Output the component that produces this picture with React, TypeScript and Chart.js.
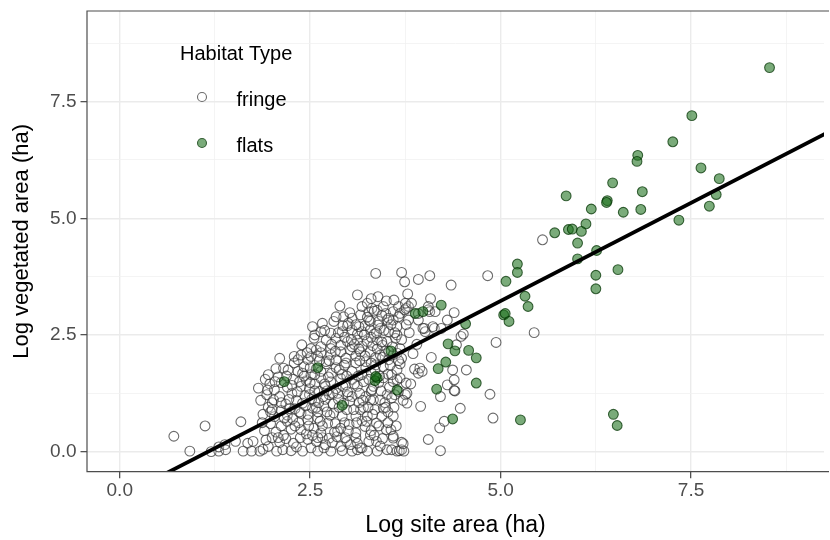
import React, { useEffect, useRef } from 'react';
import { Chart, registerables } from 'chart.js';

Chart.register(...registerables);

// ---- axes ----
const xRange = [-0.43, 9.245];
const yRange = [-0.43, 9.443];
const xTickValues = [0, 1.25, 2.5, 3.75, 5, 6.25, 7.5, 8.75];
const xTickLabels = ['0.0', '', '2.5', '', '5.0', '', '7.5', ''];
const yTickValues = [0, 1.25, 2.5, 3.75, 5, 6.25, 7.5, 8.75];
const yTickLabels = ['0.0', '', '2.5', '', '5.0', '', '7.5', ''];
const xTitle = 'Log site area (ha)';
const yTitle = 'Log vegetated area (ha)';
const legendTitle = 'Habitat Type';
const seriesNames = ['fringe', 'flats'];

// ---- fitted line (two ends) ----
const fitX = [0.5, 9.4];
const fitY = [-0.556, 6.93];

// ---- flats points ----
const flatsPoints: [number, number][] = [
  [8.53, 8.23], [7.51, 7.2], [7.26, 6.64], [6.8, 6.35], [6.79, 6.22], [7.63, 6.08], [7.87, 5.85],
  [6.47, 5.76], [6.86, 5.57], [5.86, 5.48], [6.4, 5.38], [6.39, 5.34], [7.83, 5.51], [7.74, 5.26],
  [6.19, 5.2], [6.61, 5.13], [6.84, 5.19], [7.34, 4.96], [6.12, 4.88], [5.89, 4.76], [5.94, 4.77],
  [6.06, 4.72], [5.71, 4.69], [6.01, 4.47], [6.01, 4.13], [6.26, 4.31], [5.22, 4.02], [5.22, 3.84],
  [5.07, 3.65], [6.25, 3.78], [6.54, 3.9], [6.25, 3.49], [5.32, 3.33], [5.36, 3.11], [5.04, 2.93],
  [5.06, 2.96], [5.11, 2.79], [4.22, 3.14], [3.88, 2.96], [3.98, 3.0], [4.54, 2.74], [4.31, 2.31],
  [4.4, 2.16], [4.58, 2.17], [4.68, 2.01], [4.28, 1.92], [4.18, 1.78], [4.68, 1.47], [4.16, 1.34],
  [4.37, 0.7], [5.26, 0.68], [6.48, 0.8], [6.53, 0.56], [3.56, 2.16], [3.64, 1.32], [3.38, 1.58],
  [3.35, 1.52], [2.6, 1.8], [2.92, 0.99], [2.16, 1.5], [3.36, 1.61],
];

// ---- fringe points ----
const fringePoints: [number, number][] = [
  // ground row and outskirts
  [0.71, 0.33], [0.92, 0.01], [1.12, 0.55], [1.2, 0.0], [1.3, 0.01], [1.3, 0.1], [1.38, 0.15], [1.39, 0.04],
  [1.52, 0.22], [1.59, 0.64], [1.62, 0.01], [1.68, 0.18], [1.73, 0.01], [1.75, 0.22], [1.84, 0.01], [1.88, 0.05],
  [1.95, 0.11], [2.06, 0.01], [2.14, 0.04], [2.25, 0.02], [2.32, 0.1], [2.4, 0.01], [2.51, 0.08], [2.6, 0.01],
  [2.68, 0.08], [2.77, 0.01], [2.9, 0.11], [2.92, 0.02], [3.05, 0.01], [3.12, 0.04], [3.18, 0.08], [3.25, 0.01],
  [3.38, 0.01], [3.51, 0.04], [3.57, 0.04], [3.64, 0.01], [3.67, 0.02], [3.7, 0.04], [3.73, 0.01], [4.21, 0.02],
  // 0.1 - 0.35
  [1.92, 0.25], [2.0, 0.3], [2.1, 0.2], [2.18, 0.28], [2.28, 0.18], [2.37, 0.3], [2.47, 0.26], [2.58, 0.22],
  [2.66, 0.3], [2.75, 0.29], [2.79, 0.19], [2.85, 0.32], [2.98, 0.22], [3.03, 0.15], [3.1, 0.3], [3.16, 0.08],
  [3.29, 0.36], [3.37, 0.22], [3.45, 0.28], [3.59, 0.29], [3.7, 0.2], [3.72, 0.17], [4.05, 0.26],
  // 0.4 - 0.7
  [1.9, 0.45], [1.98, 0.6], [2.05, 0.42], [2.12, 0.55], [2.2, 0.65], [2.25, 0.48], [2.38, 0.47], [2.47, 0.68],
  [2.55, 0.5], [2.6, 0.72], [2.64, 0.4], [2.73, 0.61], [2.86, 0.44], [2.95, 0.62], [3.01, 0.58], [3.1, 0.4],
  [3.18, 0.66], [3.22, 0.54], [3.24, 0.65], [3.3, 0.45], [3.37, 0.61], [3.5, 0.47], [3.56, 0.47], [3.59, 0.33],
  [4.2, 0.51], [4.26, 0.65],
  // 0.7 - 1.0
  [1.88, 0.8], [1.95, 0.95], [2.03, 0.75], [2.12, 0.88], [2.2, 0.78], [2.3, 0.92], [2.38, 0.82], [2.47, 0.8],
  [2.53, 0.93], [2.6, 0.85], [2.68, 0.97], [2.76, 0.78], [2.81, 0.83], [2.92, 0.76], [2.98, 0.9], [3.1, 0.76],
  [3.16, 0.9], [3.25, 0.76], [3.35, 0.9], [3.44, 0.76], [3.46, 0.93], [3.52, 0.85], [3.59, 0.76], [3.95, 0.97],
  [4.47, 0.93], [4.9, 0.72],
  // 1.0 - 1.3
  [1.85, 1.1], [1.93, 1.22], [2.0, 1.05], [2.02, 1.11], [2.1, 1.18], [2.18, 1.02], [2.26, 1.25], [2.32, 1.1],
  [2.4, 1.04], [2.49, 1.22], [2.56, 1.08], [2.62, 1.29], [2.7, 1.12], [2.75, 1.22], [2.86, 1.25], [2.94, 1.04],
  [3.0, 1.2], [3.05, 1.18], [3.14, 1.05], [3.23, 1.18], [3.29, 1.11], [3.3, 1.29], [3.33, 1.11], [3.42, 1.11],
  [3.51, 1.22], [3.61, 1.22], [3.66, 1.29], [3.75, 1.22], [3.77, 1.04], [3.77, 1.25], [4.21, 1.18], [4.4, 1.3],
  [4.86, 1.23],
  // 1.3 - 1.6
  [1.82, 1.36], [1.91, 1.55], [1.97, 1.45], [2.03, 1.33], [2.12, 1.48], [2.2, 1.38], [2.28, 1.55], [2.38, 1.4],
  [2.45, 1.52], [2.49, 1.35], [2.56, 1.45], [2.64, 1.57], [2.7, 1.4], [2.77, 1.5], [2.84, 1.35], [2.9, 1.57],
  [2.97, 1.43], [3.05, 1.55], [3.12, 1.4], [3.2, 1.5], [3.31, 1.33], [3.33, 1.4], [3.4, 1.48], [3.46, 1.58],
  [3.54, 1.38], [3.59, 1.5], [3.64, 1.54], [3.68, 1.58], [3.76, 1.47], [4.3, 1.43], [4.39, 1.31], [4.39, 1.54],
  // 1.6 - 1.9
  [1.95, 1.65], [2.05, 1.78], [2.15, 1.79], [2.21, 1.75], [2.29, 1.9], [2.34, 1.72], [2.4, 1.68], [2.42, 1.82],
  [2.51, 1.65], [2.58, 1.78], [2.64, 1.72], [2.71, 1.88], [2.78, 1.68], [2.84, 1.8], [2.92, 1.66], [2.97, 1.9],
  [3.05, 1.72], [3.1, 1.9], [3.18, 1.65], [3.23, 1.8], [3.3, 1.7], [3.36, 1.86], [3.46, 1.82], [3.52, 1.66],
  [3.57, 1.65], [3.64, 1.75], [3.68, 1.88], [3.87, 1.77], [3.92, 1.68], [3.94, 1.79], [3.97, 1.72], [4.37, 1.75],
  [4.55, 1.75],
  // 1.9 - 2.2
  [2.1, 2.0], [2.29, 2.04], [2.34, 1.97], [2.38, 2.07], [2.47, 1.97], [2.51, 2.04], [2.58, 2.18], [2.6, 2.04],
  [2.64, 2.12], [2.71, 1.93], [2.77, 2.08], [2.84, 1.97], [2.9, 2.14], [2.97, 2.0], [3.03, 2.18], [3.1, 2.05],
  [3.16, 2.14], [3.23, 1.93], [3.29, 2.14], [3.36, 2.02], [3.42, 2.07], [3.48, 2.15], [3.53, 1.97], [3.59, 2.08],
  [3.64, 2.11], [3.7, 2.0], [4.09, 2.02],
  // 2.2 - 2.5
  [2.39, 2.29], [2.51, 2.21], [2.55, 2.43], [2.64, 2.25], [2.71, 2.39], [2.77, 2.21], [2.84, 2.43], [2.9, 2.28],
  [2.99, 2.36], [3.05, 2.25], [3.12, 2.39], [3.18, 2.26], [3.25, 2.36], [3.32, 2.27], [3.38, 2.39], [3.45, 2.28],
  [3.51, 2.36], [3.58, 2.25], [3.62, 2.43], [3.68, 2.21], [4.42, 2.29], [4.48, 2.47], [4.51, 2.52], [4.94, 2.34],
  // 2.5 - 2.8
  [2.56, 2.5], [2.53, 2.68], [2.64, 2.57], [2.66, 2.75], [2.77, 2.54], [2.81, 2.79], [2.92, 2.57], [2.99, 2.7],
  [3.05, 2.61], [3.12, 2.52], [3.18, 2.57], [3.22, 2.7], [3.29, 2.61], [3.34, 2.52], [3.4, 2.79], [3.42, 2.64],
  [3.53, 2.57], [3.64, 2.68], [3.64, 2.5], [3.79, 2.82], [3.92, 2.82], [4.0, 2.64], [4.01, 2.57], [4.13, 2.64],
  [4.3, 2.82], [5.44, 2.55],
  // 2.8 - 3.1
  [2.84, 2.89], [2.89, 3.12], [2.94, 2.89], [3.05, 2.86], [3.16, 2.93], [3.27, 2.82], [3.27, 3.0], [3.31, 3.07],
  [3.38, 3.03], [3.49, 2.96], [3.51, 2.82], [3.59, 3.0], [3.59, 2.82], [3.66, 3.11], [3.68, 2.96], [3.74, 3.04],
  [3.79, 3.11], [4.05, 3.04], [4.07, 3.0], [4.14, 3.0], [4.39, 2.98],
  [3.0, 2.75], [3.14, 2.68], [3.34, 3.01], [3.29, 2.79], [3.39, 2.71], [3.53, 2.86], [3.66, 2.89], [3.76, 3.07],
  [3.76, 2.72], [3.92, 2.96], [3.98, 2.64], [4.11, 2.68], [4.22, 2.64],
  // 3.1 - 3.4
  [3.12, 3.36], [3.18, 3.11], [3.25, 3.18], [3.39, 3.32], [3.46, 3.11], [3.5, 3.23], [3.75, 3.18], [3.78, 3.38],
  [3.83, 3.18], [4.08, 3.28], [4.05, 3.11],
  // top
  [3.36, 3.82], [3.7, 3.84], [3.74, 3.64], [3.92, 3.69], [4.07, 3.77], [4.35, 3.57], [4.83, 3.77], [5.55, 4.54],
  // extra core
  [2.35, 0.62], [2.45, 0.38], [2.52, 1.12], [2.58, 0.95], [2.66, 0.55], [2.72, 1.3], [2.8, 1.02], [2.83, 0.6],
  [2.88, 0.95], [2.93, 1.4], [2.96, 0.3], [3.02, 1.08], [3.07, 0.9], [3.13, 1.62], [3.15, 1.25], [3.2, 0.95],
  [3.27, 1.55], [3.32, 0.8], [3.35, 1.75], [3.4, 0.55], [3.43, 1.3], [3.48, 1.05], [3.55, 1.85], [3.6, 0.95],
  [3.45, 2.02], [3.38, 2.2], [3.22, 2.05], [3.08, 2.3], [2.95, 2.45], [2.88, 1.75], [2.74, 1.6], [2.62, 1.95],
  [2.5, 1.8], [2.43, 1.2], [2.36, 1.5], [2.27, 0.7], [2.22, 1.12], [2.15, 0.35], [2.08, 1.6], [1.98, 0.85],
  [2.6, 0.3], [2.7, 0.15], [2.82, 0.42], [3.0, 0.45], [3.12, 0.18], [3.27, 0.22], [3.42, 0.12], [3.52, 0.62],
  [2.48, 0.55], [2.56, 1.3], [2.67, 1.18], [2.78, 2.3], [2.98, 1.62], [3.15, 1.95], [3.3, 2.45], [3.47, 2.6],
  [3.56, 2.72], [3.25, 2.88], [3.02, 2.98], [2.93, 2.7],
  // extra core 2
  [1.87, 0.62], [1.94, 1.32], [2.0, 0.9], [2.04, 1.5], [2.08, 0.3], [2.12, 1.05], [2.16, 0.72], [2.19, 1.62],
  [2.23, 0.92], [2.26, 1.42], [2.3, 0.55], [2.33, 1.28], [2.36, 0.85], [2.42, 1.62], [2.44, 0.98], [2.5, 1.48],
  [2.53, 0.35], [2.56, 1.65], [2.61, 1.05], [2.63, 0.65], [2.69, 1.45], [2.72, 0.85], [2.75, 1.95], [2.8, 1.25],
  [2.83, 2.15], [2.87, 1.12], [2.9, 0.5], [2.95, 1.85], [2.99, 1.28], [3.04, 2.4], [3.08, 1.45], [3.11, 0.62],
  [3.14, 2.2], [3.19, 1.1], [3.21, 2.5], [3.26, 0.95], [3.3, 1.9], [3.34, 0.35], [3.37, 2.55], [3.41, 1.62],
  [3.44, 2.35], [3.49, 0.95], [3.53, 2.15], [3.57, 1.15], [3.61, 2.55], [3.63, 0.55], [3.66, 1.95], [3.7, 2.4],
  [3.72, 1.1], [3.8, 2.55], [3.85, 2.1], [3.82, 1.45], [3.9, 2.3], [2.46, 2.12], [2.69, 2.6], [2.87, 2.55],
  [3.1, 2.72], [3.44, 2.92], [3.6, 3.25], [3.3, 3.28],
];

const FONT = "'Liberation Sans', Arial, Helvetica, sans-serif";

const fringeStyle = { fill: 'rgba(255,255,255,0.15)', stroke: 'rgba(45,45,45,0.7)' };
const flatsStyle = { fill: 'rgba(25,110,25,0.58)', stroke: 'rgba(0,50,0,0.72)' };

const panelBorder = {
  id: 'panelBorder',
  afterDatasetsDraw(chart: any) {
    const { ctx, chartArea: a } = chart;
    ctx.save();
    ctx.strokeStyle = '#4d4d4d';
    ctx.lineWidth = 1.2;
    ctx.beginPath();
    ctx.moveTo(a.right + 5, a.top);
    ctx.lineTo(a.left, a.top);
    ctx.lineTo(a.left, a.bottom);
    ctx.lineTo(a.right + 5, a.bottom);
    ctx.stroke();
    ctx.restore();
  },
};

const insideLegend = {
  id: 'insideLegend',
  afterDraw(chart: any) {
    const { ctx } = chart;
    ctx.save();
    ctx.fillStyle = '#000';
    ctx.textAlign = 'left';
    ctx.textBaseline = 'alphabetic';
    ctx.font = `20px ${FONT}`;
    ctx.fillText(legendTitle, 180, 60);
    const items = [
      { name: seriesNames[0], style: fringeStyle, cy: 97 },
      { name: seriesNames[1], style: flatsStyle, cy: 143 },
    ];
    items.forEach((it) => {
      ctx.beginPath();
      ctx.arc(202, it.cy, 4.5, 0, Math.PI * 2);
      ctx.fillStyle = it.style.fill;
      ctx.fill();
      ctx.strokeStyle = it.style.stroke;
      ctx.lineWidth = 1.1;
      ctx.stroke();
      ctx.fillStyle = '#000';
      ctx.font = `20px ${FONT}`;
      ctx.textBaseline = 'alphabetic';
      ctx.fillText(it.name, 236.5, it.cy + 8.5);
    });
    ctx.restore();
  },
};

function gridOpts() {
  return {
    drawTicks: true,
    tickLength: 6.5,
    tickWidth: 1.1,
    tickColor: (c: any) => (c.index % 2 === 0 ? '#333333' : 'rgba(0,0,0,0)'),
    color: (c: any) => (c.index % 2 === 0 ? '#ebebeb' : '#f1f1f1'),
    lineWidth: (c: any) => (c.index % 2 === 0 ? 1.4 : 0.8),
  };
}

export default function App() {
  const ref = useRef<HTMLCanvasElement | null>(null);

  useEffect(() => {
    if (!ref.current) return;
    const chart = new Chart(ref.current, {
      type: 'scatter',
      data: {
        datasets: [
          {
            type: 'scatter',
            label: seriesNames[0],
            data: fringePoints.map(([x, y]) => ({ x, y })),
            backgroundColor: fringeStyle.fill,
            borderColor: fringeStyle.stroke,
            borderWidth: 1.1,
            pointRadius: 4.9,
            order: 3,
          },
          {
            type: 'scatter',
            label: seriesNames[1],
            data: flatsPoints.map(([x, y]) => ({ x, y })),
            backgroundColor: flatsStyle.fill,
            borderColor: flatsStyle.stroke,
            borderWidth: 1.1,
            pointRadius: 4.9,
            order: 2,
          },
          {
            type: 'line',
            label: 'fit',
            data: fitX.map((x, i) => ({ x, y: fitY[i] })),
            borderColor: '#000000',
            borderWidth: 3.8,
            pointRadius: 0,
            fill: false,
            showLine: true,
            order: 1,
          } as any,
        ],
      },
      options: {
        animation: false,
        responsive: false,
        devicePixelRatio: 1,
        layout: { padding: { left: 0, right: 0, top: 11, bottom: 0 } },
        plugins: { legend: { display: false }, tooltip: { enabled: false } },
        scales: {
          x: {
            type: 'linear',
            min: xRange[0],
            max: xRange[1],
            afterBuildTicks: (s: any) => {
              s.ticks = xTickValues.map((v) => ({ value: v }));
            },
            afterFit: (s: any) => {
              s.height = 68.3;
              s.paddingLeft = 0;
              s.paddingRight = 0;
            },
            ticks: {
              autoSkip: false,
              maxRotation: 0,
              padding: 1,
              color: '#4d4d4d',
              font: { family: FONT, size: 19 },
              callback: (_v: any, i: number) => xTickLabels[i],
            },
            grid: gridOpts(),
            border: { display: false },
            title: {
              display: true,
              text: xTitle,
              color: '#000',
              font: { family: FONT, size: 23 },
              padding: { top: 0, bottom: 1 },
            },
          },
          y: {
            type: 'linear',
            min: yRange[0],
            max: yRange[1],
            afterBuildTicks: (s: any) => {
              s.ticks = yTickValues.map((v) => ({ value: v }));
            },
            afterFit: (s: any) => {
              s.width = 87;
              s.paddingTop = 0;
              s.paddingBottom = 0;
            },
            ticks: {
              autoSkip: false,
              padding: 4,
              color: '#4d4d4d',
              font: { family: FONT, size: 19 },
              callback: (_v: any, i: number) => yTickLabels[i],
            },
            grid: gridOpts(),
            border: { display: false },
            title: {
              display: true,
              text: yTitle,
              color: '#000',
              font: { family: FONT, size: 22 },
              padding: { top: 9, bottom: 0 },
            },
          },
        },
      },
      plugins: [panelBorder, insideLegend],
    } as any);
    return () => chart.destroy();
  }, []);

  return (
    <div style={{ position: 'fixed', left: 0, top: 0, width: 830, height: 540, background: '#fff' }}>
      <canvas ref={ref} width={830} height={540} style={{ display: 'block' }} />
    </div>
  );
}
